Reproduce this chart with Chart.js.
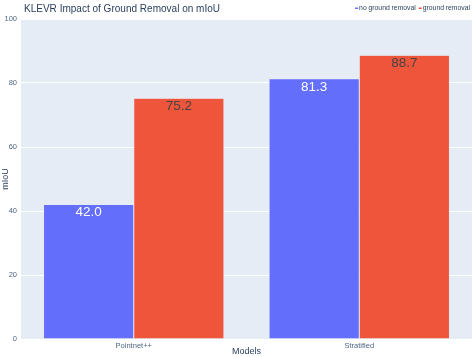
<!DOCTYPE html>
<html>
<head>
<meta charset="utf-8">
<script src="https://cdn.jsdelivr.net/npm/chart.js@4"></script>
<style>
  html, body { margin: 0; padding: 0; background: #fff; }
  #wrap { width: 476px; height: 357px; }
</style>
</head>
<body>
<div id="wrap"><canvas id="c" width="476" height="357"></canvas></div>
<script>
// KLEVR ground removal comparison

const models = ["Pointnet++", "Stratified"];
const noGround = [42.0, 81.3];
const withGround = [75.2, 88.7];
const seriesNames = ["no ground removal", "ground removal"];
const yTicks = [0, 20, 40, 60, 80, 100];

const FONT = "'Liberation Sans', Arial, sans-serif";
const INK = "#2a3f5f";
const TICK = "#506784";


// value labels inside the top of each bar
const barLabels = {
  id: "barLabels",
  afterDatasetsDraw(chart) {
    const ctx = chart.ctx;
    ctx.save();
    ctx.font = "13.5px " + FONT;
    ctx.textAlign = "center";
    ctx.textBaseline = "middle";
    chart.data.datasets.forEach((ds, i) => {
      chart.getDatasetMeta(i).data.forEach((bar, j) => {
        ctx.fillStyle = i === 0 ? "#ffffff" : "#444444";
        ctx.fillText(ds.data[j].toFixed(1), bar.x, bar.y + 8);
      });
    });
    ctx.restore();
  }
};


// title at top left, legend at top right (plotly style)
const header = {
  id: "header",
  afterDraw(chart) {
    const ctx = chart.ctx;
    const title = "KLEVR Impact of Ground Removal on mIoU";
    ctx.save();
    ctx.font = "11.5px " + FONT;
    ctx.fillStyle = INK;
    ctx.textBaseline = "middle";
    ctx.textAlign = "left";
    // squeeze a little, the source font runs narrower
    const k = 196 / ctx.measureText(title).width;
    ctx.translate(24, 9);
    ctx.scale(k, 1);
    ctx.fillText(title, 0, 0);
    ctx.restore();

    ctx.save();
    ctx.font = "6.8px " + FONT;
    ctx.textBaseline = "middle";
    const colors = chart.data.datasets.map(d => d.backgroundColor);
    let x = 470;
    const y = 8;
    for (let i = seriesNames.length - 1; i >= 0; i--) {
      const w = ctx.measureText(seriesNames[i]).width;
      x -= w;
      ctx.fillStyle = INK;
      ctx.fillText(seriesNames[i], x, y);
      x -= 4;
      ctx.fillStyle = colors[i];
      ctx.fillRect(x, y - 0.5, 3, 1.5);
      x -= 3;
    }
    ctx.restore();
  }
};


// plot background
const plotBg = {
  id: "plotBg",
  beforeDraw(chart) {
    const a = chart.chartArea;
    const ctx = chart.ctx;
    ctx.save();
    ctx.fillStyle = "#E5ECF6";
    ctx.fillRect(a.left, a.top, a.right - a.left, a.bottom - a.top);
    ctx.restore();
  }
};


new Chart(document.getElementById("c"), {
  type: "bar",
  data: {
    labels: models,
    datasets: [
      {
        label: seriesNames[0],
        data: noGround,
        backgroundColor: "#636EFA",
        borderColor: "#E5ECF6",
        borderWidth: 0.5
      },
      {
        label: seriesNames[1],
        data: withGround,
        backgroundColor: "#EF553B",
        borderColor: "#E5ECF6",
        borderWidth: 0.5
      }
    ]
  },
  options: {
    responsive: false,
    animation: false,
    devicePixelRatio: 1,
    layout: { padding: { top: 19, right: 4, left: 0, bottom: 0 } },
    datasets: { bar: { categoryPercentage: 0.8, barPercentage: 1.0 } },
    plugins: {
      legend: { display: false },
      title: { display: false },
      tooltip: { enabled: false }
    },
    scales: {
      x: {
        grid: { display: false, drawTicks: false },
        border: { display: false },
        ticks: { color: TICK, font: { family: FONT, size: 7.5 }, padding: 2 },
        title: { display: true, text: "Models", color: INK,
          font: { family: FONT, size: 9 }, padding: { top: 0, bottom: 0 } },
        afterFit: s => { s.height = 18; }
      },
      y: {
        min: 0,
        max: 100,
        afterBuildTicks: s => { s.ticks = yTicks.map(v => ({ value: v })); },
        grid: { color: "#ffffff", lineWidth: 1, drawTicks: false },
        border: { display: false },
        ticks: { color: TICK, font: { family: FONT, size: 7.5 }, padding: 4 },
        title: { display: true, text: "mIoU", color: INK,
          font: { family: FONT, size: 9 }, padding: { top: 0, bottom: 0 } },
        afterFit: s => { s.width = 21; }
      }
    }
  },
  plugins: [plotBg, barLabels, header]
});
</script>
</body>
</html>
